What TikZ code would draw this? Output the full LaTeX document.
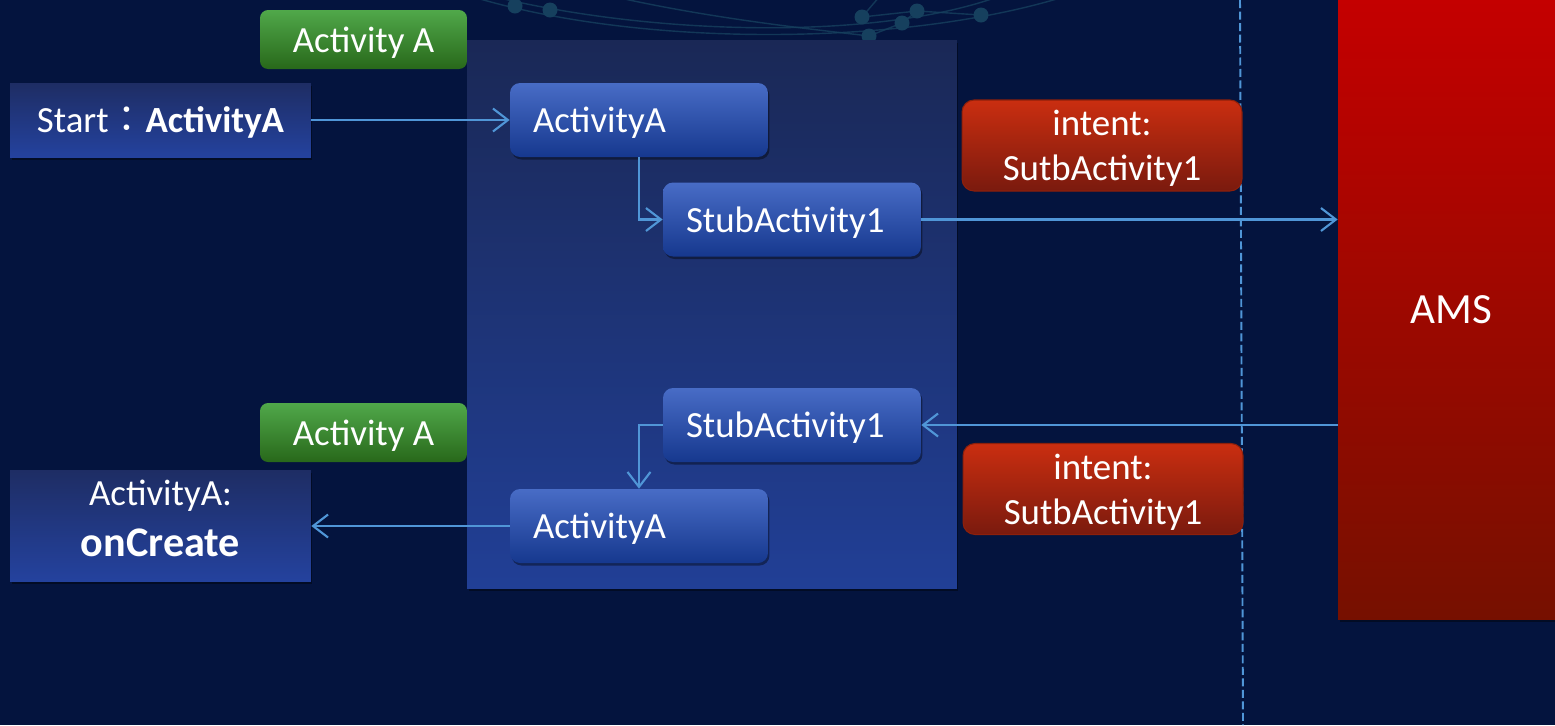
\documentclass[tikz,border=0pt]{standalone}
\usepackage{fontspec}
\setmainfont{Carlito}
\newfontfamily\cjk{Noto Sans CJK TC}
\usetikzlibrary{arrows.meta, positioning, shadows}

\definecolor{bgnavy}{RGB}{4, 20, 62}
\definecolor{paneltop}{RGB}{26, 40, 86}
\definecolor{panelbot}{RGB}{33, 63, 150}
\definecolor{navytop}{RGB}{30, 45, 100}
\definecolor{navybot}{RGB}{36, 66, 158}
\definecolor{bluetop}{RGB}{72, 108, 198}
\definecolor{bluebot}{RGB}{22, 56, 142}
\definecolor{greentop}{RGB}{80, 168, 74}
\definecolor{greenbot}{RGB}{40, 104, 26}
\definecolor{redtop}{RGB}{202, 46, 16}
\definecolor{redbot}{RGB}{122, 26, 14}
\definecolor{amstop}{RGB}{196, 0, 0}
\definecolor{amsbot}{RGB}{118, 16, 0}
\definecolor{flowblue}{RGB}{80, 150, 215}
\definecolor{netteal}{RGB}{22, 64, 94}

\tikzset{
  shade/.style={drop shadow={fill=black, opacity=0.4, shadow xshift=0.03cm, shadow yshift=-0.05cm}},
  navybox/.style={shade, top color=navytop, bottom color=navybot, text=white,
    minimum width=6.02cm, align=center, inner sep=0pt, text depth=0pt},
  actbox/.style={shade, rounded corners=0.2cm, top color=bluetop, bottom color=bluebot,
    text=white, text width=4.24cm, inner xsep=0.46cm, inner ysep=0pt, align=left,
    minimum height=1.48cm, text depth=0pt, font=\fontsize{21}{25}\selectfont},
  tagbox/.style={rounded corners=0.16cm, top color=greentop, bottom color=greenbot,
    text=white, minimum width=4.14cm, minimum height=1.18cm, inner sep=0pt,
    text depth=0pt, font=\fontsize{21}{25}\selectfont},
  intentbox/.style={rounded corners=0.24cm, top color=redtop, bottom color=redbot,
    draw=redtop!70!black, line width=0.6pt, text=white, minimum width=5.6cm,
    minimum height=1.82cm, inner sep=0pt, align=center, text depth=0pt,
    font=\fontsize{21}{25.5}\selectfont},
  flow/.style={draw=flowblue, line width=1.2pt,
    -{Straight Barb[length=0.3cm, width=0.46cm, line width=1.2pt]}},
}

\begin{document}
\begin{tikzpicture}[x=0.02cm, y=-0.02cm]
  \fill[bgnavy] (0,0) rectangle (1555,725);
  \useasboundingbox (0,0) rectangle (1555,725);

  % Network pattern at the top
  \begin{scope}[draw=netteal, line width=0.8pt, opacity=0.8]
    \draw (470,-4) .. controls (640,48) and (900,46) .. (1060,-2);
    \draw (500,-2) .. controls (660,36) and (880,40) .. (1000,-4);
    \draw (620,-2) .. controls (720,20) and (820,30) .. (869,36);
    \draw (862,17) -- (917,11) -- (981,15);
    \draw (869,36) -- (902,23) -- (917,11);
    \draw (862,17) -- (880,-4);
  \end{scope}
  \foreach \px/\py in {515/6, 550/10, 862/17, 869/36, 902/23, 917/11, 981/15}
    \fill[netteal] (\px,\py) circle (0.15cm);

  % Process panel
  \node[shade, top color=paneltop, bottom color=panelbot, minimum width=9.8cm,
    minimum height=10.98cm, inner sep=0pt] (panel) at (712,314.5) {};

  % Divider
  \coordinate (divtop) at (1240,0);
  \coordinate (divbot) at (1243,725);
  \draw[flowblue, line width=1.1pt, dash pattern=on 0.16cm off 0.07cm] (divtop) -- (divbot);

  % AMS
  \node[shade, top color=amstop, bottom color=amsbot, minimum width=4.52cm,
    minimum height=12.4cm, inner sep=0pt, text=white, text depth=0pt,
    font=\fontsize{24.5}{28}\selectfont] (ams) at (1451,310) {AMS};

  % Left side
  \node[tagbox] (tagTop) at (363.5,39.5) {Activity A};
  \node[tagbox] (tagBot) at (363.5,432.5) {Activity A};
  \node[navybox, minimum height=1.48cm, font=\fontsize{21}{25}\selectfont]
    (startA) at (160.5,120) {Start{\cjk ：}\textbf{ActivityA}};
  \node[navybox, minimum height=2.22cm, text depth=0.28cm, font=\fontsize{21}{29}\selectfont]
    (createA) at (160.5,525.5) {ActivityA:\\
    {\fontsize{24}{29}\selectfont\bfseries onCreate}};

  % Activities inside the panel
  \node[actbox] (actTop) at (639,120) {ActivityA};
  \node[actbox] (stubTop) at (792,219.5) {StubActivity1};
  \node[actbox] (stubBot) at (792,425) {StubActivity1};
  \node[actbox] (actBot) at (639,526) {ActivityA};

  % Intents
  \node[intentbox] (intentTop) at (1102,145.5) {intent:\\SutbActivity1};
  \node[intentbox] (intentBot) at (1103,489) {intent:\\SutbActivity1};

  % Flow
  \draw[flow] (startA.east) -- (actTop.west);
  \draw[flow] (actTop.south) |- (stubTop.west);
  \draw[flow] (stubTop.east) -- (stubTop.east -| ams.west);
  \draw[flow] (ams.west |- stubBot.east) -- (stubBot.east);
  \draw[flow] (stubBot.west) -| (actBot.north);
  \draw[flow] (actBot.west) -- (actBot.west -| createA.east);
\end{tikzpicture}
\end{document}
